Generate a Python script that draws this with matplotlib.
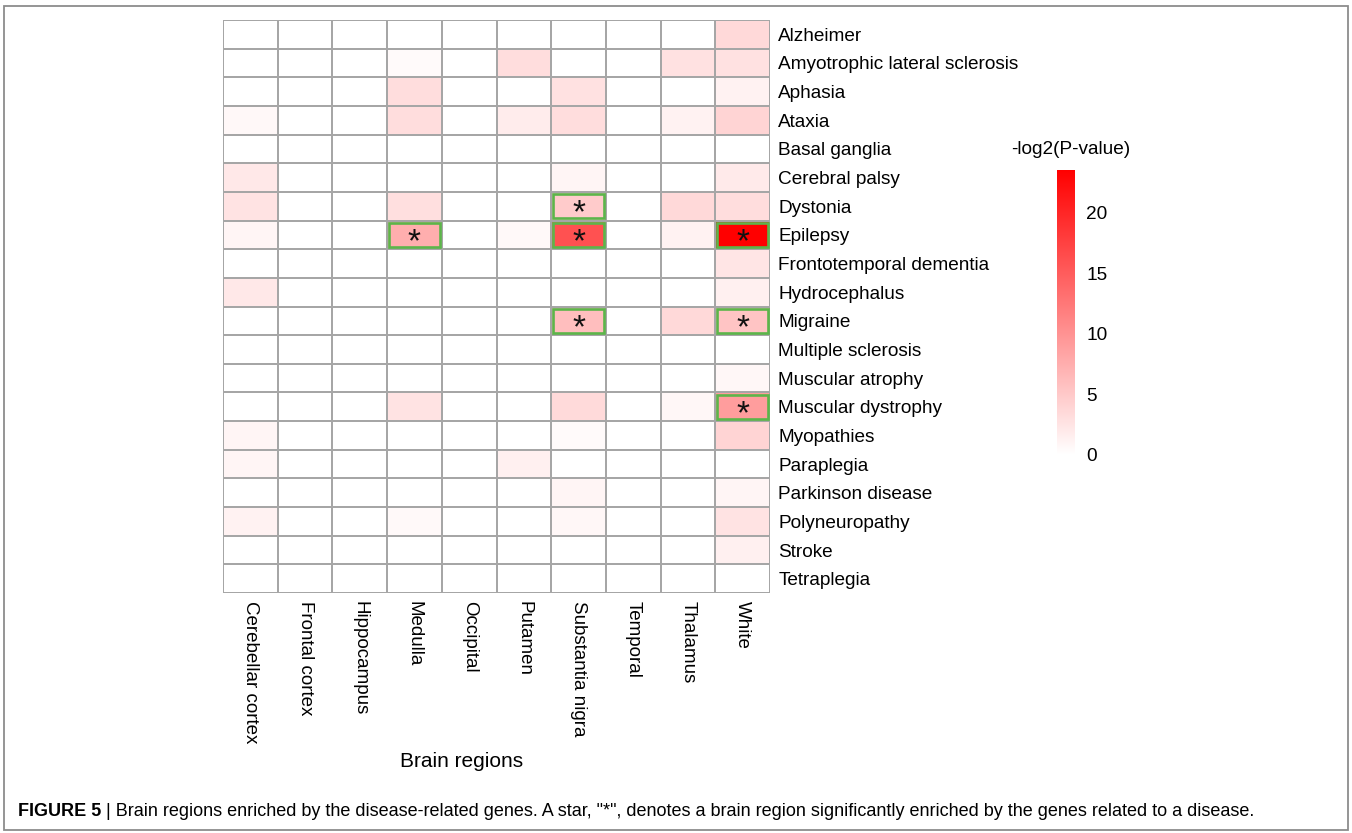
import numpy as np
import matplotlib
matplotlib.use("Agg")
import matplotlib.pyplot as plt
from matplotlib.colors import LinearSegmentedColormap
from matplotlib.patches import Rectangle

plt.rcParams['font.family'] = ['Liberation Sans', 'DejaVu Sans']

regions = ["Cerebellar cortex", "Frontal cortex", "Hippocampus", "Medulla", "Occipital",
           "Putamen", "Substantia nigra", "Temporal", "Thalamus", "White"]
diseases = ["Alzheimer", "Amyotrophic lateral sclerosis", "Aphasia", "Ataxia", "Basal ganglia",
            "Cerebral palsy", "Dystonia", "Epilepsy", "Frontotemporal dementia", "Hydrocephalus",
            "Migraine", "Multiple sclerosis", "Muscular atrophy", "Muscular dystrophy", "Myopathies",
            "Paraplegia", "Parkinson disease", "Polyneuropathy", "Stroke", "Tetraplegia"]

# -log2(P-value), rows = diseases, cols = regions
values = np.array([
    [0.0, 0, 0, 0.0, 0, 0.0, 0.0, 0, 0.0, 3.5],
    [0.0, 0, 0, 0.5, 0, 3.2, 0.0, 0, 2.8, 2.8],
    [0.0, 0, 0, 3.2, 0, 0.0, 2.8, 0, 0.0, 1.2],
    [0.7, 0, 0, 3.2, 0, 1.8, 3.2, 0, 1.2, 4.0],
    [0.0, 0, 0, 0.0, 0, 0.0, 0.0, 0, 0.0, 0.0],
    [2.2, 0, 0, 0.0, 0, 0.0, 1.0, 0, 0.0, 2.0],
    [2.6, 0, 0, 3.0, 0, 0.0, 4.8, 0, 3.5, 3.2],
    [1.0, 0, 0, 7.5, 0, 0.6, 16.0, 0, 1.2, 23.5],
    [0.0, 0, 0, 0.0, 0, 0.0, 0.0, 0, 0.0, 2.4],
    [2.2, 0, 0, 0.0, 0, 0.0, 0.0, 0, 0.0, 1.4],
    [0.0, 0, 0, 0.0, 0, 0.0, 6.0, 0, 3.5, 5.5],
    [0.0, 0, 0, 0.0, 0, 0.0, 0.0, 0, 0.0, 0.0],
    [0.0, 0, 0, 0.0, 0, 0.0, 0.0, 0, 0.0, 0.8],
    [0.0, 0, 0, 2.6, 0, 0.0, 3.4, 0, 0.8, 9.0],
    [1.0, 0, 0, 0.0, 0, 0.0, 0.5, 0, 0.0, 4.0],
    [1.0, 0, 0, 0.0, 0, 1.4, 0.0, 0, 0.0, 0.0],
    [0.0, 0, 0, 0.0, 0, 0.0, 1.0, 0, 0.0, 1.0],
    [1.2, 0, 0, 0.6, 0, 0.0, 0.8, 0, 0.0, 2.6],
    [0.0, 0, 0, 0.0, 0, 0.0, 0.0, 0, 0.0, 1.4],
    [0.0, 0, 0, 0.0, 0, 0.0, 0.0, 0, 0.0, 0.0],
])

# significant (row disease, col region)
stars = [("Dystonia", "Substantia nigra"), ("Epilepsy", "Medulla"),
         ("Epilepsy", "Substantia nigra"), ("Epilepsy", "White"),
         ("Migraine", "Substantia nigra"), ("Migraine", "White"),
         ("Muscular dystrophy", "White")]

W, H = 1352, 833
fig = plt.figure(figsize=(W/100, H/100), dpi=100)
cmap = LinearSegmentedColormap.from_list("wr", ["#ffffff", "#ff0000"])
vmax = 23.5

ax = fig.add_axes([223/W, 1-593/H, 547/W, 573/H])
mesh = ax.pcolormesh(values, cmap=cmap, vmin=0, vmax=vmax,
                     edgecolors="#a6a6a6", linewidth=1.3)
ax.set_xlim(0, len(regions)); ax.set_ylim(len(diseases), 0)
for s in ax.spines.values():
    s.set_visible(False)

ax.set_xticks(np.arange(len(regions)) + 0.5)
ax.set_xticklabels(regions, rotation=270, fontsize=13.5, va="top", ha="center")
ax.set_yticks(np.arange(len(diseases)) + 0.5)
ax.yaxis.tick_right()
ax.set_yticklabels(diseases, fontsize=13.7)
ax.tick_params(length=0, pad=6)
ax.set_xlabel("Brain regions", fontsize=15)
ax.xaxis.set_label_coords((462-223)/547, (593-752)/573)

for d, r in stars:
    i = diseases.index(d); j = regions.index(r)
    ax.add_patch(Rectangle((j+0.04, i+0.08), 0.92, 0.84, fill=False,
                           edgecolor="#5cb54a", linewidth=1.9, zorder=4))
    ax.text(j+0.5, i+0.78, "*", ha="center", va="center", fontsize=24,
            color="#111111", zorder=5)

cax = fig.add_axes([1057/W, 1-455/H, 18/W, 285/H])
cb = fig.colorbar(mesh, cax=cax, ticks=[0, 5, 10, 15, 20])
cb.outline.set_visible(False)
cax.tick_params(length=0, labelsize=13.7, pad=8)
fig.text(1071/W, 1-150/H, "-log2(P-value)", ha="center", va="center", fontsize=13.7)

# figure frame and caption
fig.add_artist(Rectangle((4/W, 3/H), 1344/W, 824/H, transform=fig.transFigure,
                         fill=False, edgecolor="#8c8c8c", linewidth=1.3))
fig.text(18/W, 1-812/H, "FIGURE 5", fontsize=13, fontweight="bold", va="center", ha="left")
fig.text(106/W, 1-812/H, "| Brain regions enriched by the disease-related genes. "
         "A star, \"*\", denotes a brain region significantly enriched by the genes related to a disease.",
         fontsize=13, va="center", ha="left")

fig.savefig("out.png", dpi=100)
